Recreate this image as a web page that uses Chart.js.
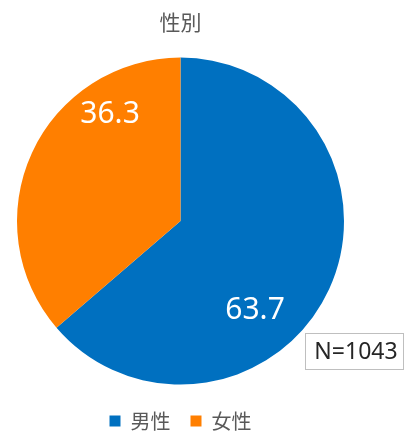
<!DOCTYPE html>
<html>
<head>
<meta charset="utf-8">
<script src="https://cdn.jsdelivr.net/npm/chart.js@4/dist/chart.umd.min.js"></script>
<style>
  html, body { margin: 0; padding: 0; background: #fff; }
  #wrap { width: 407px; height: 437px; }
</style>
</head>
<body>
<div id="wrap"><canvas id="genderChart" width="407" height="437"></canvas></div>
<script>
const categories = ['男性', '女性'];
const shares = [63.7, 36.3];
const sliceColors = ['#0070C0', '#FF7F00'];
const chartTitle = '性別';
const sampleNote = 'N=1043';

const jpFont = '"Noto Sans CJK JP", "Noto Sans", sans-serif';

// value labels, offset from the pie centre as a fraction of the radius
const labelOffsets = [[0.456, 0.544], [-0.431, -0.654]];

const valueLabels = {
    id: 'valueLabels',
    afterDatasetsDraw(chart) {
        const ctx = chart.ctx;
        const meta = chart.getDatasetMeta(0);
        ctx.save();
        ctx.font = '30px "Noto Sans", sans-serif';
        ctx.fillStyle = '#ffffff';
        ctx.textAlign = 'center';
        ctx.textBaseline = 'middle';
        meta.data.forEach((arc, i) => {
            const r = arc.outerRadius;
            const x = arc.x + labelOffsets[i][0] * r;
            const y = arc.y + labelOffsets[i][1] * r;
            ctx.fillText(shares[i].toFixed(1), x, y);
        });
        ctx.restore();
    }
};

const noteBox = {
    id: 'noteBox',
    afterDraw(chart) {
        const ctx = chart.ctx;
        ctx.save();
        ctx.fillStyle = '#ffffff';
        ctx.fillRect(305.5, 333.5, 98, 36);
        ctx.strokeStyle = '#bfbfbf';
        ctx.lineWidth = 1;
        ctx.strokeRect(305.5, 333.5, 98, 36);
        ctx.font = '23px "Noto Sans", sans-serif';
        ctx.fillStyle = '#262626';
        ctx.textAlign = 'center';
        ctx.textBaseline = 'middle';
        ctx.fillText(sampleNote, 356, 352);
        ctx.restore();
    }
};

const ctx = document.getElementById('genderChart').getContext('2d');
new Chart(ctx, {
    type: 'pie',
    data: {
        labels: categories,
        datasets: [{
            data: shares,
            backgroundColor: sliceColors,
            borderWidth: 0
        }]
    },
    options: {
        responsive: false,
        animation: false,
        layout: { padding: { left: 17, right: 63, top: 0, bottom: 0 } },
        plugins: {
            title: {
                display: true,
                text: chartTitle,
                color: '#595959',
                font: { family: jpFont, size: 21, weight: 'normal', lineHeight: 1.2 },
                padding: { top: 9, bottom: 17 }
            },
            legend: {
                display: true,
                position: 'bottom',
                maxHeight: 46,
                labels: {
                    color: '#595959',
                    font: { family: jpFont, size: 20 },
                    boxWidth: 11,
                    boxHeight: 11,
                    padding: 20
                }
            },
            tooltip: { enabled: false }
        }
    },
    plugins: [valueLabels, noteBox]
});
</script>
</body>
</html>
